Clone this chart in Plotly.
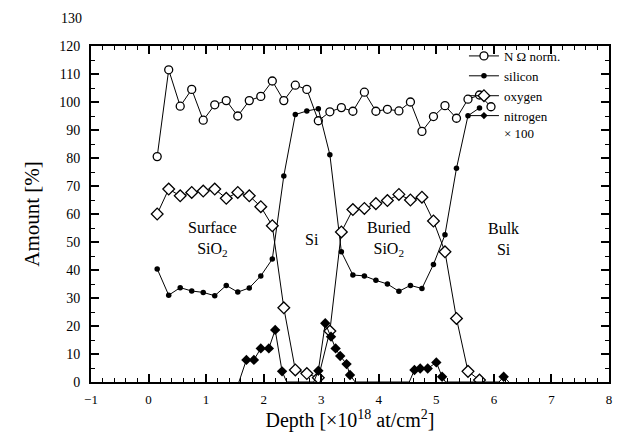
import plotly.graph_objects as go

# ---------------- data ----------------
depth = [0.15, 0.35, 0.55, 0.75, 0.95, 1.15, 1.35, 1.55, 1.75, 1.95,
         2.15, 2.35, 2.55, 2.75, 2.95, 3.15, 3.35, 3.55, 3.75, 3.95,
         4.15, 4.35, 4.55, 4.75, 4.95, 5.15, 5.35, 5.55, 5.75, 5.95]

n_omega_norm = [80.5, 111.5, 98.5, 104.5, 93.5, 99.0, 100.5, 95.0, 100.5, 102.0,
                107.5, 100.5, 106.0, 104.5, 93.3, 96.5, 98.0, 96.7, 103.5, 96.7,
                97.4, 96.8, 100.0, 89.5, 94.8, 98.7, 94.2, 101.0, 102.5, 98.3]

silicon = [40.4, 31.0, 33.7, 32.5, 32.0, 30.8, 34.5, 32.1, 33.6, 37.9,
           43.9, 73.6, 95.5, 96.8, 97.6, 81.2, 46.5, 38.2, 37.9, 36.3,
           35.0, 32.4, 34.5, 33.4, 42.0, 52.6, 76.3, 95.1, 97.9]

oxygen = [60.0, 68.9, 66.5, 67.7, 68.2, 68.9, 65.6, 67.7, 66.5, 62.6,
          55.8, 26.5, 4.3, 3.0, 1.5, 18.2, 53.6, 61.6, 62.0, 63.7,
          64.8, 67.0, 65.0, 66.0, 57.5, 46.5, 22.7, 3.8, 0.7]

nitrogen_depth = [1.57, 1.70, 1.83, 1.95, 2.09, 2.20, 2.32, 2.40,
                  2.87, 2.95, 3.07, 3.17, 3.25, 3.33, 3.44, 3.50, 3.59,
                  4.53, 4.62, 4.72, 4.85, 5.00, 5.10, 5.16,
                  6.09, 6.17, 6.26]
nitrogen_x100 = [0.0, 7.9, 7.9, 12.0, 12.0, 18.6, 3.8, 0.0,
                 0.0, 4.0, 21.0, 16.2, 12.0, 9.3, 6.4, 2.5, 0.0,
                 0.0, 4.3, 4.8, 4.8, 7.0, 1.9, 0.0,
                 0.0, 1.9, 0.0]

region_labels = ["Surface<br>SiO<sub>2</sub>", "Si", "Buried<br>SiO<sub>2</sub>", "Bulk<br>Si"]
region_x = [1.11, 2.84, 4.17, 6.17]
region_y = [51, 51, 51, 51]

x_ticks = [-1, 0, 1, 2, 3, 4, 5, 6, 7, 8]
y_ticks = [0, 10, 20, 30, 40, 50, 60, 70, 80, 90, 100, 110, 120]
y_extra_label = 130

# ---------------- figure ----------------
SERIF = "Liberation Serif, Times New Roman, serif"
fig = go.Figure()

fig.add_trace(go.Scatter(
    x=depth[:len(n_omega_norm)], y=n_omega_norm, name="N Ω norm.",
    mode="lines+markers",
    line=dict(color="black", width=1),
    marker=dict(symbol="circle", size=8, color="white", opacity=1,
                line=dict(color="black", width=1.3)),
))
fig.add_trace(go.Scatter(
    x=depth[:len(silicon)], y=silicon, name="silicon",
    mode="lines+markers",
    line=dict(color="black", width=1),
    marker=dict(symbol="circle", size=5.5, color="black", opacity=1),
))
fig.add_trace(go.Scatter(
    x=depth[:len(oxygen)], y=oxygen, name="oxygen",
    mode="lines+markers",
    line=dict(color="black", width=1),
    marker=dict(symbol="diamond", size=9, color="white", opacity=1,
                line=dict(color="black", width=1.3)),
))
n_sizes = [0 if v == 0 else 8 for v in nitrogen_x100]
fig.add_trace(go.Scatter(
    x=nitrogen_depth, y=nitrogen_x100, name="nitrogen<br>× 100",
    mode="lines+markers",
    line=dict(color="black", width=1),
    marker=dict(symbol="diamond", size=n_sizes, color="black", opacity=1,
                line=dict(width=0)),
))

for t, xx, yy in zip(region_labels, region_x, region_y):
    fig.add_annotation(x=xx, y=yy, text=t, showarrow=False,
                       font=dict(family=SERIF, size=16, color="black"),
                       xanchor="center", yanchor="middle")

# extra "130" label above the frame (y range is 0..120)
fig.add_annotation(x=0, xref="paper", y=y_extra_label / 120, yref="paper",
                   text=str(y_extra_label),
                   showarrow=False, xanchor="right", yanchor="middle", xshift=-7,
                   font=dict(family=SERIF, size=14, color="black"))

axis_common = dict(
    showline=True, linecolor="black", linewidth=2, mirror="allticks",
    ticks="inside", tickcolor="black", tickwidth=1.5, ticklen=8,
    showgrid=False, zeroline=False,
)

fig.update_xaxes(
    range=[-1, 8], tickvals=x_ticks,
    tickfont=dict(family=SERIF, size=13, color="black"),
    minor=dict(dtick=0.2, ticks="inside", ticklen=4, tickcolor="black", tickwidth=1.2),
    title=dict(text="Depth [×10<sup>18</sup> at/cm<sup>2</sup>]",
               font=dict(family=SERIF, size=20, color="black"), standoff=2),
    ticklabelstandoff=4,
    **axis_common,
)
fig.update_yaxes(
    range=[0, 120], tickvals=y_ticks,
    tickfont=dict(family=SERIF, size=14, color="black"),
    minor=dict(dtick=5, ticks="inside", ticklen=4, tickcolor="black", tickwidth=1.2),
    title=dict(text="Amount [%]",
               font=dict(family=SERIF, size=21, color="black"), standoff=14),
    ticklabelstandoff=6,
    **axis_common,
)

fig.update_layout(
    template="none",
    width=623, height=439,
    margin=dict(l=91, r=14, t=46, b=57),
    paper_bgcolor="white", plot_bgcolor="white",
    showlegend=True,
    legend=dict(x=0.72, y=1.015, xanchor="left", yanchor="top",
                bgcolor="rgba(0,0,0,0)", borderwidth=0,
                font=dict(family=SERIF, size=13, color="black"),
                valign="top", tracegroupgap=0, itemwidth=30),
)

fig.write_html("out.html")
